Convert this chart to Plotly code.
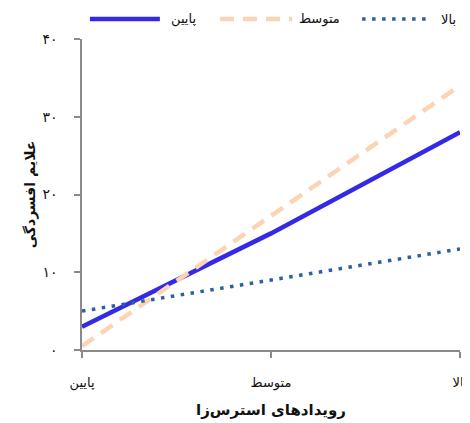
import plotly.graph_objects as go

categories = ["پایین", "متوسط", "بالا"]
low_support = [3.0, 15.0, 28.0]      # پایین
mid_support = [0.5, 17.3, 34.0]      # متوسط
high_support = [5.0, 9.0, 13.0]      # بالا
y_ticks = [0, 10, 20, 30, 40]
y_tick_labels = ["۰", "۱۰", "۲۰", "۳۰", "۴۰"]

series_names = ["پایین", "متوسط", "بالا"]
series_colors = ["#3329e6", "#fdd3b4", "#2e5fa6"]
series_dash = ["solid", "14px,9px", "3.5px,6.5px"]
series_width = [4.5, 4.5, 3.5]

FONT = "DejaVu Sans"

fig = go.Figure()
for name, vals, col, dash, w in zip(series_names, [low_support, mid_support, high_support],
                                    series_colors, series_dash, series_width):
    fig.add_trace(go.Scatter(x=[0, 1, 2], y=vals, mode="lines", name=name,
                             line=dict(color=col, dash=dash, width=w),
                             showlegend=False, cliponaxis=False))

# custom RTL legend (text to the left of the swatch)
leg_y = 1.064
leg_items = [
    (0.021, 0.206, 0.268, 0),
    (0.365, 0.556, 0.627, 1),
    (0.741, 0.921, 0.970, 2),
]
for x0, x1, xt, i in leg_items:
    fig.add_shape(type="line", xref="paper", yref="paper", x0=x0, x1=x1, y0=leg_y, y1=leg_y,
                  line=dict(color=series_colors[i], width=series_width[i], dash=series_dash[i]))
    fig.add_annotation(xref="paper", yref="paper", x=xt, y=leg_y, text=series_names[i],
                       showarrow=False, font=dict(family=FONT, size=13, color="#111"),
                       xanchor="center", yanchor="middle")

# page body has an 8px default margin, so the figure is sized/offset to compensate
fig.update_layout(
    width=462, height=415,
    margin=dict(l=74, r=10, t=31, b=73),
    paper_bgcolor="white", plot_bgcolor="white",
    font=dict(family=FONT, size=12, color="#111"),
    xaxis=dict(
        tickmode="array", tickvals=[0, 1, 2], ticktext=categories,
        range=[0, 2], showgrid=False, zeroline=False, automargin=False,
        showline=True, linecolor="#8a8a8a", linewidth=1.5,
        ticks="outside", ticklen=6, tickcolor="#8a8a8a", tickwidth=1.5,
        ticklabelstandoff=14,
        tickfont=dict(family=FONT, size=13, color="#111"),
        title=dict(text="<b>رویدادهای استرس‌زا</b>", font=dict(family=FONT, size=15, color="#111"),
                   standoff=14),
    ),
    yaxis=dict(
        tickmode="array", tickvals=y_ticks, ticktext=y_tick_labels,
        range=[0, 40], showgrid=False, zeroline=False, automargin=False,
        showline=True, linecolor="#8a8a8a", linewidth=1.5,
        ticks="outside", ticklen=6, tickcolor="#8a8a8a", tickwidth=1.5,
        ticklabelstandoff=14,
        tickfont=dict(family=FONT, size=14, color="#111"),
        title=dict(text="<b>علایم افسردگی</b>", font=dict(family=FONT, size=14, color="#111"),
                   standoff=4),
    ),
)

fig.write_html("out.html")
